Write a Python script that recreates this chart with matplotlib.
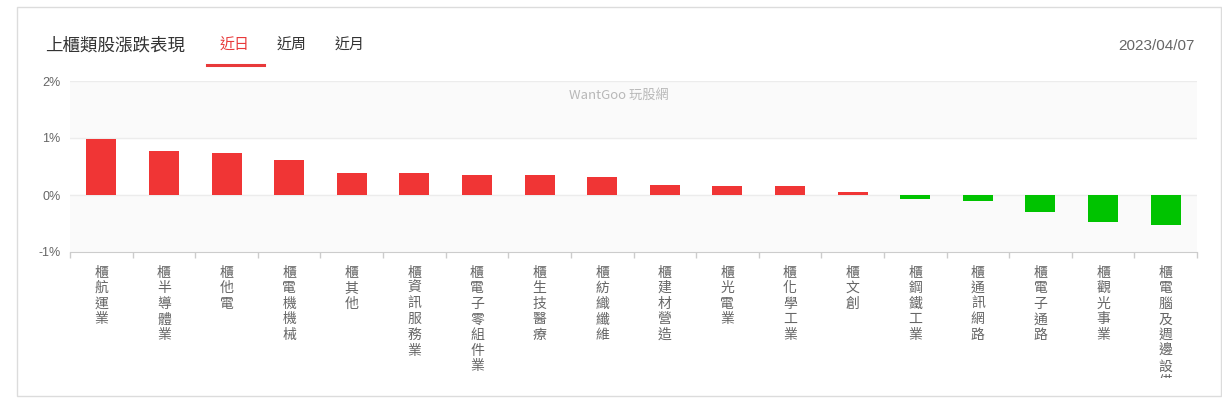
import matplotlib
matplotlib.use("Agg")
import matplotlib.pyplot as plt
from matplotlib.patches import Rectangle
from matplotlib.lines import Line2D
from matplotlib.transforms import Bbox, TransformedBbox

plt.rcParams['font.family'] = ['Noto Sans CJK TC', 'DejaVu Sans']

categorias = ["櫃航運業", "櫃半導體業", "櫃他電", "櫃電機機械", "櫃其他", "櫃資訊服務業",
              "櫃電子零組件業", "櫃生技醫療", "櫃紡織纖維", "櫃建材營造", "櫃光電業", "櫃化學工業",
              "櫃文創", "櫃鋼鐵工業", "櫃通訊網路", "櫃電子通路", "櫃觀光事業", "櫃電腦及週邊設備"]
valores = [0.99, 0.77, 0.74, 0.61, 0.39, 0.39, 0.35, 0.35, 0.31, 0.18, 0.16, 0.16,
           0.06, -0.07, -0.10, -0.30, -0.48, -0.52]
ticks_y = [-1, 0, 1, 2]
etiquetas_y = ["-1%", "0%", "1%", "2%"]
titulo = "上櫃類股漲跌表現"
pestanas = ["近日", "近周", "近月"]
fecha = "2023/04/07"

W, H = 1222, 404
fig = plt.figure(figsize=(W / 100, H / 100), dpi=100, facecolor="white")

def fx(px):
    return px / W

def fy(py):
    return 1 - py / H

# tarjeta
fig.patches.append(Rectangle((fx(17), fy(396)), fx(1221) - fx(17), fy(7) - fy(396),
                             transform=fig.transFigure, facecolor="none",
                             edgecolor="#dcdcdc", linewidth=1, zorder=-5))

ax = fig.add_axes([fx(70), fy(252), fx(1197) - fx(70), fy(81) - fy(252)])
n = len(categorias)
x = list(range(n))
colores = ["#f03535" if v >= 0 else "#00c300" for v in valores]
ax.bar(x, valores, width=0.48, color=colores, zorder=3)

ax.set_xlim(-0.5, n - 0.5)
ax.set_ylim(-1, 2)
# bandas de fondo
for i in range(len(ticks_y) - 1):
    if i % 2 == 0:
        ax.axhspan(ticks_y[i], ticks_y[i + 1], color="#fafafa", zorder=0)
for t in ticks_y[1:]:
    ax.axhline(t, color="#ececec", linewidth=1, zorder=1)

ax.set_yticks(ticks_y)
ax.set_yticklabels(etiquetas_y, color="#666666", fontsize=9, family=["Liberation Sans"])
ax.tick_params(axis="y", length=0, pad=7)
ax.set_xticks([i - 0.5 for i in range(n + 1)])
ax.set_xticklabels([])
ax.tick_params(axis="x", length=4, color="#cccccc", width=1)
for s in ["top", "right", "left"]:
    ax.spines[s].set_visible(False)
ax.spines["bottom"].set_color("#cccccc")
ax.set_facecolor("white")

fig.text(fx(619), fy(95), "WantGoo 玩股網", ha="center", va="center",
         color="#b8b8b8", fontsize=9.5, zorder=4)

# etiquetas verticales, recortadas como en la tarjeta
caja = TransformedBbox(Bbox([[0, fy(378)], [1, fy(252)]]), fig.transFigure)
for i, nombre in enumerate(categorias):
    t = ax.text(i, -1 - 13.5 / 57, "\n".join(nombre), ha="center", va="top", color="#666666",
                fontsize=10, linespacing=1.15)
    t.set_clip_box(caja)
    t.set_clip_on(True)

# cabecera
fig.text(fx(45), fy(46), titulo, ha="left", va="center", fontsize=12.6, color="#333333")
pos_tabs = [235, 292, 350]
for p, nombre in zip(pos_tabs, pestanas):
    fig.text(fx(p), fy(46), nombre, ha="center", va="center", fontsize=10.8,
             color="#e8393a" if nombre == pestanas[0] else "#333333")
fig.lines.append(Line2D([fx(207), fx(264)], [fy(65), fy(65)], transform=fig.transFigure,
                        color="#e8393a", linewidth=2.2))
fig.text(fx(1195), fy(46), fecha, ha="right", va="center", fontsize=11, color="#666666",
         family=["Liberation Sans"])

fig.savefig("out.png", dpi=100)
